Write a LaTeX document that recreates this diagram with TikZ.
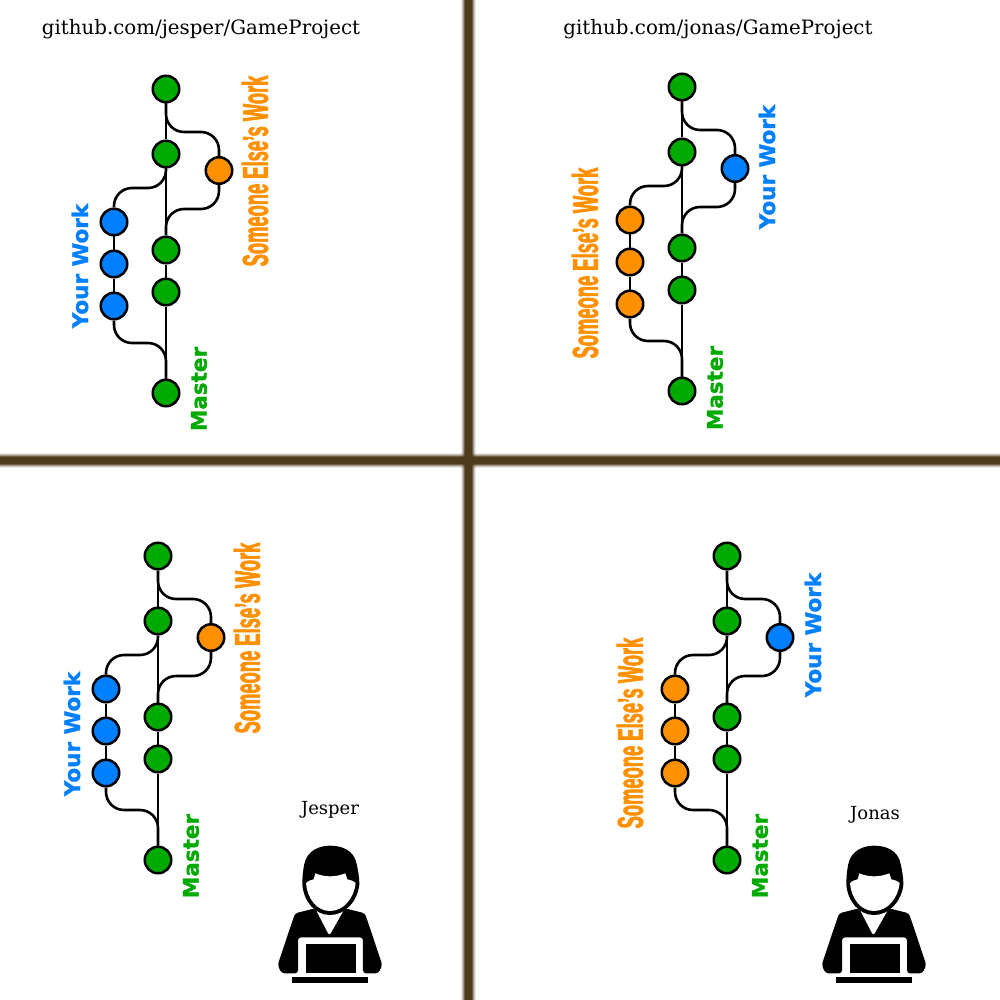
\documentclass[tikz,border=0pt]{standalone}
\usepackage{fontspec}
\setmainfont{DejaVu Serif}
\newfontfamily\workfont[FakeBold=1.2]{DejaVu Sans}
\newfontfamily\narrowfont[FakeStretch=0.51,FakeBold=1.8]{Liberation Sans}
\usetikzlibrary{positioning}

\definecolor{masterc}{RGB}{0,170,0}
\definecolor{yourc}{RGB}{0,128,255}
\definecolor{otherc}{RGB}{255,144,0}
\definecolor{wallc}{RGB}{79,58,28}

% one history: #1 prefix, #2 x of master, #3 y of first commit, #4 left colour, #5 right colour
\newcommand{\repograph}[5]{
  \node[commit,fill=masterc] (#1m1) at (#2,#3) {};
  \node[commit,fill=masterc,below=65pt of #1m1.center,anchor=center] (#1m2) {};
  \node[commit,fill=masterc,below=96pt of #1m2.center,anchor=center] (#1m3) {};
  \node[commit,fill=masterc,below=42pt of #1m3.center,anchor=center] (#1m4) {};
  \node[commit,fill=masterc,below=101pt of #1m4.center,anchor=center] (#1m5) {};
  \node[commit,fill=#5] (#1r) at (#2+53,#3+81.5) {};
  \node[commit,fill=#4] (#1l1) at (#2-52,#3+133) {};
  \node[commit,fill=#4,below=42pt of #1l1.center,anchor=center] (#1l2) {};
  \node[commit,fill=#4,below=42pt of #1l2.center,anchor=center] (#1l3) {};
  \coordinate (#1ra) at (#2+53,#3+43);
  \coordinate (#1rb) at (#2+53,#3+120);
  \coordinate (#1la) at (#2-52,#3+99);
  \coordinate (#1lb) at (#2-52,#3+254);
  \draw[branch] (#1m1) -- (#1m2);
  \draw[branch] (#1m2) -- (#1m3);
  \draw[branch] (#1m3) -- (#1m4);
  \draw[branch] (#1m4) -- (#1m5);
  \draw[branch] (#1l1) -- (#1l2);
  \draw[branch] (#1l2) -- (#1l3);
  \draw[branch,rounded corners=18pt] (#1m1) |- (#1ra) -- (#1r);
  \draw[branch,rounded corners=18pt] (#1r) -- (#1rb) -| (#1m3);
  \draw[branch,rounded corners=18pt] (#1m2) |- (#1la) -- (#1l1);
  \draw[branch,rounded corners=18pt] (#1l3) -- (#1lb) -| (#1m5);
}

% person at a laptop: #1 x of the left edge of the crop
\newcommand{\laptopuser}[1]{
  \begin{scope}[shift={(#1,790)},x=0.3333pt,y=-0.3333pt]
    \fill (97,285) .. controls (97,255) and (100,235) .. (103,222)
      .. controls (112,180) and (150,167) .. (180,167)
      .. controls (215,167) and (252,180) .. (260,222)
      .. controls (264,240) and (268,260) .. (268,285)
      .. controls (262,335) and (225,375) .. (180,375)
      .. controls (135,375) and (102,335) .. (97,285) -- cycle;
    \fill[white] (108,280) .. controls (112,272) and (125,270) .. (131,268)
      -- (136,250) .. controls (165,262) and (195,262) .. (226,250)
      -- (232,268) .. controls (240,270) and (252,272) .. (257,280)
      .. controls (252,325) and (220,363) .. (180,363)
      .. controls (140,363) and (112,325) .. (108,280) -- cycle;
    \fill[rounded corners=3pt] (135,355) -- (178,438) -- (225,355) -- (285,370)
      -- (337,525) -- (325,550) -- (279,550) -- (279,442) -- (84,442) -- (84,550)
      -- (35,550) -- (23,525) -- (75,370) -- cycle;
    \fill (107,462) rectangle (258,548);
    \fill (65,560) rectangle (295,578);
  \end{scope}
}

\begin{document}
\begin{tikzpicture}[
  x=1pt,
  y=-1pt,
  commit/.style={draw,circle,line width=2.5pt,minimum size=26.5pt,inner sep=0pt},
  branch/.style={line width=2.6pt},
  yourlabel/.style={rotate=90,inner sep=0pt,font=\workfont\bfseries\fontsize{21.5}{24}\selectfont},
  otherlabel/.style={rotate=90,inner sep=0pt,text=otherc,font=\narrowfont\bfseries\fontsize{36}{40}\selectfont},
  urllabel/.style={inner sep=0pt,font=\fontsize{19.8}{22}\selectfont},
  namelabel/.style={inner sep=0pt,font=\fontsize{18}{22}\selectfont}
]
\useasboundingbox (0,0) rectangle (1000,1000);
\fill[white] (0,0) rectangle (1000,1000);

% walls between the four rooms
\foreach \w/\o in {15/0.1,13/0.2,11/0.35,9/0.6,7/1}{
  \draw[wallc,line width=\w pt,opacity=\o] (468.5,0) -- (468.5,1000);
  \draw[wallc,line width=\w pt,opacity=\o] (0,460) -- (1000,460);
}

\node[urllabel] (urljesper) at (201,29) {github.com/jesper/GameProject};
\node[urllabel] (urljonas) at (718,29) {github.com/jonas/GameProject};

\repograph{a}{166}{89}{yourc}{otherc}
\repograph{b}{682}{87}{otherc}{yourc}
\repograph{c}{158}{556}{yourc}{otherc}
\repograph{d}{727}{556}{otherc}{yourc}

\node[yourlabel,text=yourc] (ayour) at (80,266) {Your Work};
\node[otherlabel] (aother) at (255,171) {Someone Else’s Work};
\node[yourlabel,text=masterc] (amaster) at (199,389) {Master};
\node[otherlabel] (bother) at (585,263) {Someone Else’s Work};
\node[yourlabel,text=yourc] (byour) at (767,167) {Your Work};
\node[yourlabel,text=masterc] (bmaster) at (715,388) {Master};
\node[yourlabel,text=yourc] (cyour) at (72,734) {Your Work};
\node[otherlabel] (cother) at (247,638) {Someone Else’s Work};
\node[yourlabel,text=masterc] (cmaster) at (191,856) {Master};
\node[otherlabel] (dother) at (630,733) {Someone Else’s Work};
\node[yourlabel,text=yourc] (dyour) at (813,635) {Your Work};
\node[yourlabel,text=masterc] (dmaster) at (760,856) {Master};

\node[namelabel] (jesper) at (330,810) {Jesper};
\node[namelabel] (jonas) at (875,815) {Jonas};

\laptopuser{270}
\laptopuser{814}

\end{tikzpicture}
\end{document}
